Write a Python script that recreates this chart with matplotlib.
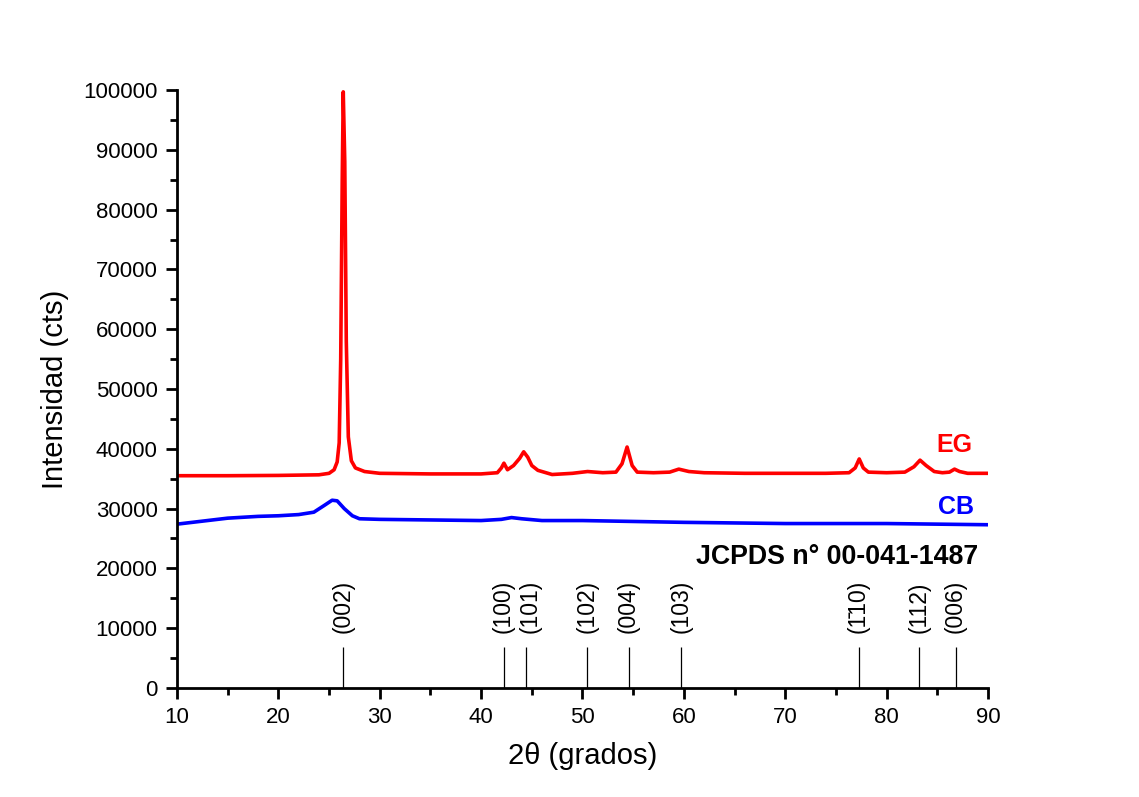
import matplotlib.pyplot as plt

plt.rcParams['font.family'] = ['Liberation Sans', 'DejaVu Sans']

# EG (expanded graphite) diffractogram
eg_2theta = [10, 15, 20, 24, 25.0, 25.5, 25.8, 26.0, 26.15, 26.3, 26.4, 26.55, 26.7, 26.9, 27.2, 27.6, 28.5,
             30, 35, 40, 41.6, 42.0, 42.25, 42.6, 43.2, 43.8, 44.2, 44.6, 45.0, 45.6, 47, 49, 50.5,
             52, 53.3, 53.9, 54.4, 54.9, 55.4, 57, 58.6, 59.5, 60.5, 62, 66, 70, 74, 76.3, 76.9, 77.3,
             77.7, 78.2, 80, 81.8, 82.7, 83.3, 83.9, 84.7, 85.5, 86.2, 86.7, 87.2, 88, 90]
eg_counts = [35500, 35500, 35550, 35650, 35900, 36500, 37800, 41000, 55000, 85000, 99700, 88000, 58000, 42000,
             38000, 36800, 36200, 35900, 35800, 35800, 36000, 36800, 37600, 36500, 37200, 38400, 39500, 38600,
             37200, 36400, 35700, 35900, 36200, 36000, 36100, 37500, 40300, 37200, 36100, 36000, 36100, 36600,
             36200, 36000, 35900, 35900, 35900, 36000, 36800, 38300, 36800, 36100, 36000, 36100, 37000, 38100,
             37200, 36200, 36000, 36100, 36600, 36200, 35900, 35900]

# CB (carbon black) diffractogram
cb_2theta = [10, 12, 15, 18, 20, 22, 23.5, 24.5, 25.3, 25.8, 26.5, 27.3, 28, 30, 35, 40, 42, 43, 44, 46,
             50, 60, 70, 80, 90]
cb_counts = [27400, 27800, 28400, 28700, 28800, 29000, 29400, 30500, 31400, 31300, 30000, 28800, 28300,
             28200, 28100, 28000, 28200, 28500, 28300, 28000, 28000, 27700, 27500, 27500, 27300]

# JCPDS 00-041-1487 reference reflections
ref_2theta = [26.38, 42.22, 44.39, 50.45, 54.54, 59.69, 77.24, 83.18, 86.8]
ref_hkl = ['(002)', '(100)', '(101)', '(102)', '(004)', '(103)', '(1\u030410)', '(112)', '(006)']
ref_height = 6800

fig = plt.figure(figsize=(11.39, 7.97), dpi=100)
ax = fig.add_axes([0.1554, 0.1368, 0.7120, 0.7502])

ax.plot(eg_2theta, eg_counts, color='#ff0000', lw=2.6)
ax.plot(cb_2theta, cb_counts, color='#0000ff', lw=2.6)

for x, lab in zip(ref_2theta, ref_hkl):
    ax.vlines(x, 0, ref_height, color='black', lw=0.9)
    # (100) and (101) are close together, nudge the labels apart a bit
    dx = {'(100)': -0.05, '(101)': 0.45}.get(lab, 0)
    ax.text(x + dx, 9200, lab, rotation=90, ha='center', va='bottom', fontsize=16.5)

ax.text(86.7, 40600, 'EG', color='#ff0000', fontsize=18, fontweight='bold', ha='center', va='center')
ax.text(86.8, 30300, 'CB', color='#0000ff', fontsize=18, fontweight='bold', ha='center', va='center')
ax.text(89.0, 21900, 'JCPDS n\u00b0 00-041-1487', fontsize=19.3, fontweight='bold', ha='right', va='center')

ax.set_xlim(10, 90)
ax.set_ylim(0, 100000)
ax.set_xticks(range(10, 91, 10))
ax.set_xticks(range(15, 90, 10), minor=True)
ax.set_yticks(range(0, 100001, 10000))
ax.set_yticks(range(5000, 100000, 10000), minor=True)

for s in ['top', 'right']:
    ax.spines[s].set_visible(False)
for s in ['left', 'bottom']:
    ax.spines[s].set_linewidth(2)

ax.tick_params(which='major', direction='out', length=8, width=2, labelsize=16, pad=6)
ax.tick_params(which='minor', direction='out', length=5, width=2)

ax.set_xlabel('2\u03b8 (grados)', fontsize=21, labelpad=10)
ax.set_ylabel('Intensidad (cts)', fontsize=21, labelpad=10)

fig.savefig('out.png', dpi=100)
